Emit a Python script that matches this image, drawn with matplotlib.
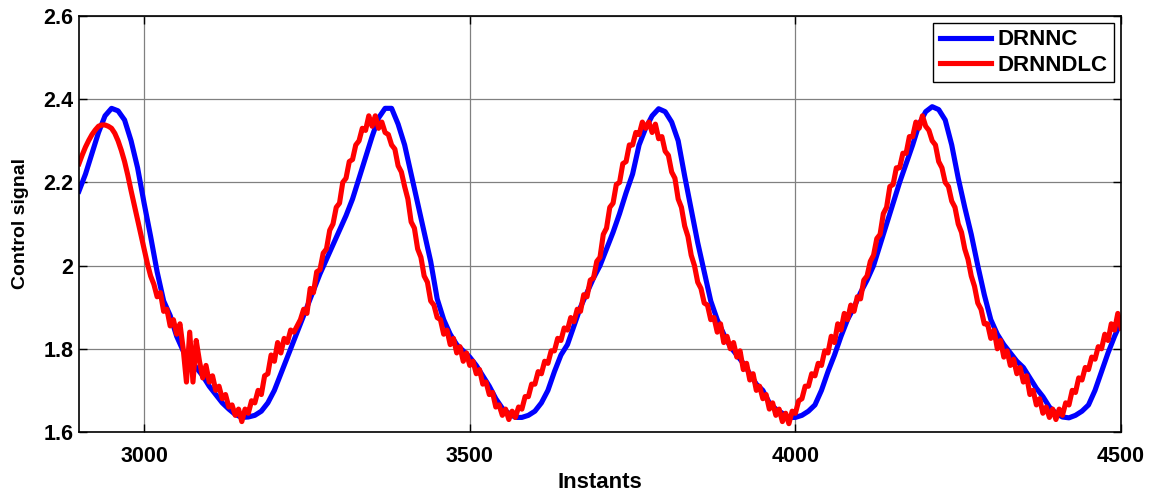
# -*- coding: utf-8 -*-

#
# Control signal: DRNNC vs DRNNDLC
#

import numpy as np
import matplotlib.pyplot as plt
from matplotlib.ticker import FormatStrFormatter


# DRNNC, one sample every 10 instants (2900 .. 4500)
x_drnnc = np.arange(2900, 4501, 10)
y_drnnc = [
    2.179, 2.22, 2.27, 2.32, 2.36, 2.378, 2.372, 2.35, 2.30, 2.235,
    2.15, 2.07, 1.985, 1.915, 1.88, 1.83, 1.795, 1.775, 1.755, 1.735,
    1.71, 1.69, 1.67, 1.655, 1.642, 1.635, 1.636, 1.64, 1.65, 1.67,
    1.70, 1.74, 1.78, 1.82, 1.86, 1.90, 1.94, 1.98, 2.015, 2.05,
    2.085, 2.12, 2.16, 2.21, 2.26, 2.31, 2.355, 2.378, 2.378, 2.34,
    2.29, 2.22, 2.15, 2.08, 2.01, 1.92, 1.87, 1.835, 1.81, 1.795,
    1.78, 1.76, 1.735, 1.71, 1.68, 1.657, 1.645, 1.635, 1.635, 1.64,
    1.65, 1.67, 1.70, 1.745, 1.785, 1.81, 1.855, 1.90, 1.935, 1.97,
    2.0, 2.04, 2.08, 2.125, 2.175, 2.22, 2.29, 2.33, 2.36, 2.377,
    2.37, 2.345, 2.30, 2.215, 2.135, 2.055, 1.985, 1.915, 1.87, 1.835,
    1.805, 1.785, 1.765, 1.74, 1.715, 1.70, 1.67, 1.655, 1.645, 1.635,
    1.635, 1.64, 1.65, 1.665, 1.70, 1.745, 1.785, 1.83, 1.87, 1.90,
    1.935, 1.965, 2.0, 2.05, 2.10, 2.15, 2.20, 2.245, 2.29, 2.34,
    2.37, 2.382, 2.375, 2.35, 2.29, 2.21, 2.14, 2.075, 2.0, 1.93,
    1.87, 1.835, 1.81, 1.79, 1.77, 1.755, 1.73, 1.705, 1.685, 1.66,
    1.645, 1.636, 1.634, 1.64, 1.65, 1.665, 1.70, 1.745, 1.79, 1.83,
    1.865,
]

# DRNNDLC, one sample every 5 instants (2900 .. 4500)
x_drnndlc = np.arange(2900, 4501, 5)
y_drnndlc = [
    2.245, 2.266, 2.285, 2.301, 2.315, 2.326, 2.335, 2.338, 2.338, 2.335,
    2.33, 2.318, 2.30, 2.277, 2.25, 2.217, 2.18, 2.145, 2.11, 2.075,
    2.04, 2.005, 1.975, 1.955, 1.925, 1.935, 1.89, 1.895, 1.855, 1.87,
    1.835, 1.86, 1.80, 1.72, 1.84, 1.72, 1.82, 1.77, 1.73, 1.76,
    1.72, 1.735, 1.70, 1.71, 1.68, 1.69, 1.66, 1.665, 1.64, 1.655,
    1.625, 1.655, 1.645, 1.675, 1.67, 1.70, 1.69, 1.735, 1.74, 1.785,
    1.77, 1.815, 1.79, 1.825, 1.815, 1.845, 1.84, 1.855, 1.87, 1.895,
    1.885, 1.945, 1.935, 1.985, 1.99, 2.03, 2.04, 2.085, 2.10, 2.14,
    2.15, 2.20, 2.21, 2.25, 2.255, 2.29, 2.30, 2.33, 2.325, 2.36,
    2.335, 2.36, 2.33, 2.345, 2.32, 2.315, 2.29, 2.28, 2.24, 2.225,
    2.19, 2.16, 2.105, 2.09, 2.04, 2.02, 1.975, 1.96, 1.915, 1.905,
    1.875, 1.87, 1.835, 1.845, 1.81, 1.825, 1.79, 1.805, 1.77, 1.79,
    1.76, 1.77, 1.74, 1.75, 1.715, 1.72, 1.69, 1.695, 1.66, 1.665,
    1.64, 1.655, 1.63, 1.65, 1.635, 1.66, 1.655, 1.685, 1.685, 1.715,
    1.715, 1.745, 1.74, 1.77, 1.765, 1.795, 1.795, 1.825, 1.82, 1.85,
    1.845, 1.875, 1.865, 1.895, 1.89, 1.93, 1.925, 1.965, 1.97, 2.01,
    2.02, 2.075, 2.09, 2.14, 2.15, 2.195, 2.20, 2.245, 2.25, 2.29,
    2.29, 2.32, 2.315, 2.345, 2.33, 2.345, 2.32, 2.34, 2.305, 2.31,
    2.275, 2.265, 2.225, 2.21, 2.16, 2.14, 2.095, 2.07, 2.025, 2.0,
    1.96, 1.945, 1.91, 1.905, 1.87, 1.875, 1.84, 1.86, 1.815, 1.83,
    1.80, 1.815, 1.78, 1.795, 1.75, 1.765, 1.725, 1.74, 1.70, 1.71,
    1.68, 1.69, 1.655, 1.67, 1.64, 1.655, 1.625, 1.645, 1.62, 1.65,
    1.645, 1.675, 1.68, 1.71, 1.71, 1.74, 1.735, 1.765, 1.76, 1.795,
    1.79, 1.83, 1.815, 1.86, 1.845, 1.885, 1.87, 1.905, 1.89, 1.925,
    1.92, 1.965, 1.975, 2.01, 2.025, 2.065, 2.075, 2.125, 2.14, 2.19,
    2.195, 2.235, 2.235, 2.27, 2.27, 2.31, 2.31, 2.345, 2.33, 2.36,
    2.335, 2.325, 2.30, 2.29, 2.25, 2.235, 2.20, 2.19, 2.155, 2.14,
    2.10, 2.08, 2.04, 2.015, 1.975, 1.95, 1.91, 1.895, 1.86, 1.86,
    1.825, 1.845, 1.80, 1.82, 1.78, 1.795, 1.76, 1.775, 1.74, 1.755,
    1.72, 1.735, 1.69, 1.70, 1.665, 1.68, 1.645, 1.66, 1.635, 1.655,
    1.63, 1.655, 1.64, 1.67, 1.665, 1.70, 1.695, 1.73, 1.725, 1.755,
    1.75, 1.78, 1.775, 1.805, 1.80, 1.835, 1.82, 1.86, 1.845, 1.885,
    1.85,
]

x_ticks = [3000, 3500, 4000, 4500]
y_ticks = [1.6, 1.8, 2.0, 2.2, 2.4, 2.6]

plt.rcParams['font.family'] = ['Liberation Sans', 'DejaVu Sans']

fig = plt.figure(figsize=(11.53, 4.92), dpi=100)
ax = fig.add_axes([0.0685, 0.122, 0.9038, 0.8455])

ax.plot(x_drnnc, y_drnnc, color='#0000ff', linewidth=3.7, label='DRNNC')
ax.plot(x_drnndlc, y_drnndlc, color='#ff0000', linewidth=3.7, label='DRNNDLC')

ax.set_xlim(2900, 4500)
ax.set_ylim(1.6, 2.6)
ax.set_xticks(x_ticks)
ax.set_yticks(y_ticks)
ax.yaxis.set_major_formatter(FormatStrFormatter('%g'))
ax.grid(True, color='#808080', linewidth=0.9)
ax.tick_params(direction='in', top=True, right=True, length=6, width=1,
               labelsize=15.5)
ax.tick_params(axis='x', pad=10)
ax.tick_params(axis='y', pad=4)
for lab in ax.get_xticklabels() + ax.get_yticklabels():
    lab.set_fontweight('bold')
for sp in ax.spines.values():
    sp.set_linewidth(1.2)

ax.set_xlabel('Instants', fontsize=16, fontweight='bold', labelpad=4)
ax.set_ylabel('Control signal', fontsize=14, fontweight='bold', labelpad=10)

leg = ax.legend(loc='upper right', fontsize=16, fancybox=False, framealpha=1,
                edgecolor='black', handlelength=2.3, handletextpad=0.3,
                borderaxespad=0.3, labelspacing=0.2, borderpad=0.3)
leg.get_frame().set_linewidth(1.0)
for t in leg.get_texts():
    t.set_fontweight('bold')

fig.savefig('out.png', dpi=100)
